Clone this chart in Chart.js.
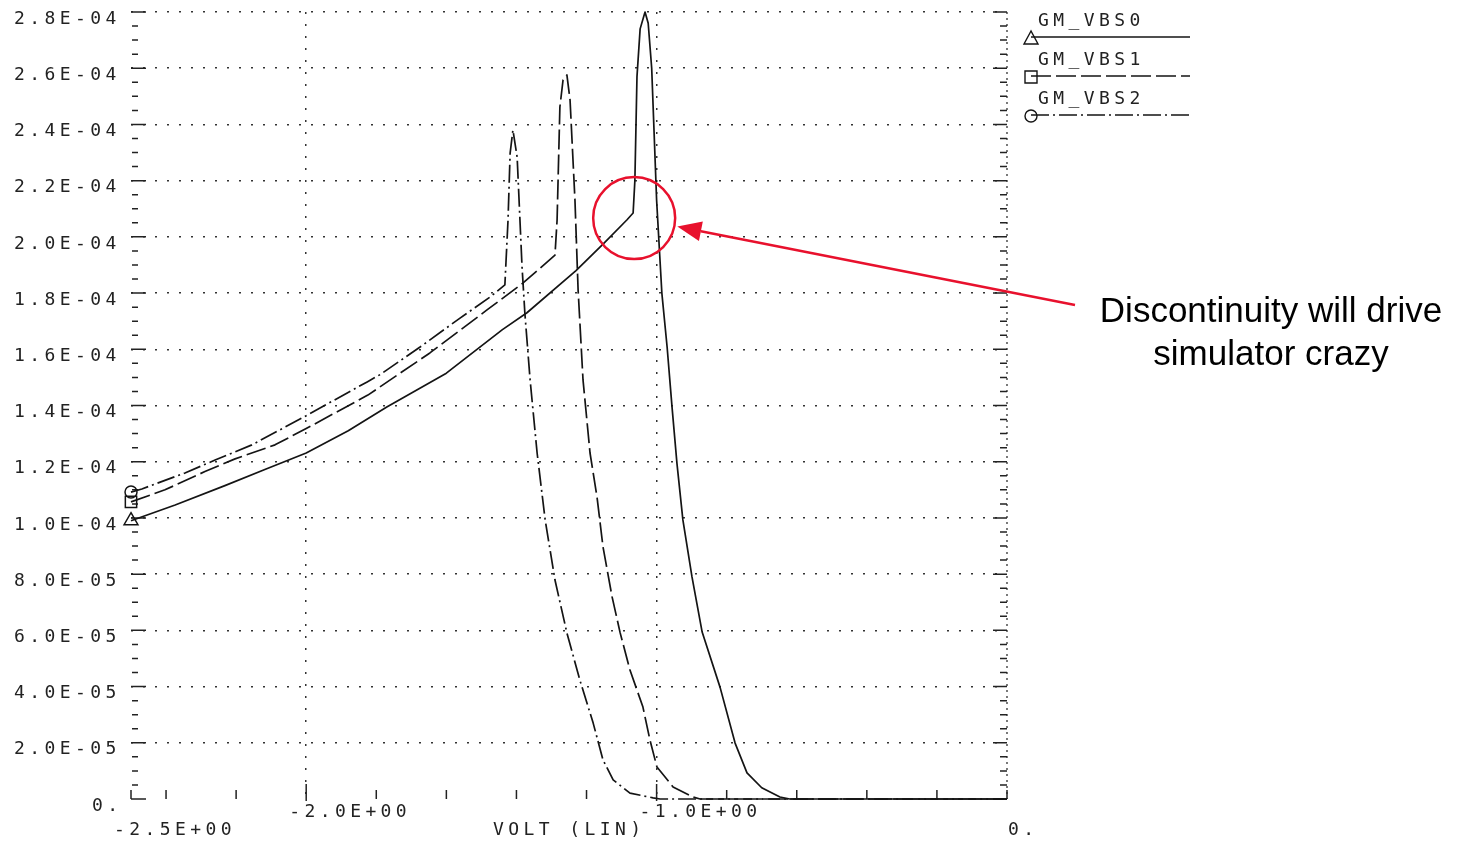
<!DOCTYPE html>
<html>
<head>
<meta charset="utf-8">
<title>GM vs VOLT</title>
<script src="https://cdn.jsdelivr.net/npm/chart.js@4.4.1/dist/chart.umd.min.js"></script>
<style>
    html, body { margin: 0; padding: 0; background: #fff; }
    #gmChart { display: block; }
</style>
</head>
<body>
<canvas id="gmChart" width="1468" height="842"></canvas>
<script>
// values (x in volts, gm in siemens)
const vbs0X = [-2.5, -2.374, -2.232, -2.118, -2.0, -1.88, -1.77, -1.6, -1.44, -1.37, -1.23, -1.15, -1.085, -1.067, -1.062, -1.056, -1.047, -1.033, -1.024, -1.014, -1.0, -0.985, -0.97, -0.956, -0.942, -0.925, -0.899, -0.87, -0.819, -0.776, -0.742, -0.7, -0.648, -0.62, 0];
const vbs0Y = [0.99e-4, 1.046e-4, 1.115e-4, 1.172e-4, 1.231e-4, 1.31e-4, 1.395e-4, 1.515e-4, 1.67e-4, 1.73e-4, 1.88e-4, 1.978e-4, 2.06e-4, 2.085e-4, 2.2e-4, 2.57e-4, 2.74e-4, 2.8e-4, 2.76e-4, 2.6e-4, 2.131e-4, 1.8e-4, 1.608e-4, 1.395e-4, 1.195e-4, 0.993e-4, 0.79e-4, 0.594e-4, 0.398e-4, 0.199e-4, 0.093e-4, 0.04e-4, 0.007e-4, 0, 0];

const vbs1X = [-2.5, -2.403, -2.289, -2.203, -2.089, -2.0, -1.824, -1.647, -1.484, -1.381, -1.29, -1.284, -1.276, -1.267, -1.256, -1.247, -1.233, -1.224, -1.21, -1.19, -1.17, -1.153, -1.127, -1.104, -1.076, -1.039, -1.019, -0.999, -0.953, -0.896, -0.876, 0];
const vbs1Y = [1.057e-4, 1.1e-4, 1.165e-4, 1.21e-4, 1.26e-4, 1.318e-4, 1.437e-4, 1.587e-4, 1.74e-4, 1.836e-4, 1.935e-4, 2.06e-4, 2.462e-4, 2.558e-4, 2.576e-4, 2.487e-4, 2.131e-4, 1.811e-4, 1.491e-4, 1.231e-4, 1.074e-4, 0.897e-4, 0.719e-4, 0.591e-4, 0.459e-4, 0.327e-4, 0.21e-4, 0.114e-4, 0.043e-4, 0.007e-4, 0, 0];

const vbs2X = [-2.5, -2.469, -2.346, -2.26, -2.155, -2.023, -1.826, -1.789, -1.675, -1.561, -1.475, -1.433, -1.424, -1.418, -1.41, -1.398, -1.384, -1.376, -1.361, -1.341, -1.318, -1.29, -1.256, -1.219, -1.181, -1.153, -1.124, -1.076, -1.01, -0.99, 0];
const vbs2Y = [1.092e-4, 1.103e-4, 1.16e-4, 1.206e-4, 1.26e-4, 1.348e-4, 1.484e-4, 1.51e-4, 1.608e-4, 1.711e-4, 1.786e-4, 1.829e-4, 2.06e-4, 2.298e-4, 2.38e-4, 2.284e-4, 1.893e-4, 1.729e-4, 1.491e-4, 1.231e-4, 0.993e-4, 0.779e-4, 0.591e-4, 0.423e-4, 0.27e-4, 0.139e-4, 0.068e-4, 0.021e-4, 0.004e-4, 0, 0];

const seriesNames = ['GM_VBS0', 'GM_VBS1', 'GM_VBS2'];

const xTickValues = [-2.5, -2.4, -2.2, -2.0, -1.8, -1.6, -1.4, -1.2, -1.0, -0.8, -0.6, -0.4, -0.2, 0];
const xGridValues = [-2.0, -1.0];
const xLabelValues = [-2.5, -2.0, -1.0, 0];
const xLabelText = ['-2.5E+00', '-2.0E+00', '-1.0E+00', '0.'];
const xTitle = 'VOLT (LIN)';

const yTickValues = [0, 2e-5, 4e-5, 6e-5, 8e-5, 1e-4, 1.2e-4, 1.4e-4, 1.6e-4, 1.8e-4, 2e-4, 2.2e-4, 2.4e-4, 2.6e-4, 2.8e-4];
const yLabelText = ['0.', '2.0E-05', '4.0E-05', '6.0E-05', '8.0E-05', '1.0E-04', '1.2E-04', '1.4E-04', '1.6E-04', '1.8E-04', '2.0E-04', '2.2E-04', '2.4E-04', '2.6E-04', '2.8E-04'];

const noteLines = ['Discontinuity will drive', 'simulator crazy'];
const notePoint = { x: -1.064, y: 2.067e-4 };

const ink = '#141414';
const noteRed = '#e8112d';
const dashes = [[], [20, 5], [18, 4, 2, 4]];
const markers = ['triangle', 'rect', 'circle'];
const markerSize = [8, 8, 6];

function toPoints(xs, ys) {
    return xs.map((v, i) => ({ x: v, y: ys[i] }));
}

function plotText(ctx, text, x, y, align) {
    ctx.save();
    ctx.font = '18px "DejaVu Sans Mono"';
    ctx.letterSpacing = '4.4px';
    ctx.fillStyle = '#222';
    ctx.textAlign = align;
    ctx.textBaseline = 'middle';
    ctx.fillText(text, x, y);
    ctx.restore();
}

function drawMarker(ctx, style, x, y) {
    ctx.beginPath();
    if (style === 'triangle') {
        ctx.moveTo(x, y - 7);
        ctx.lineTo(x - 7, y + 6);
        ctx.lineTo(x + 7, y + 6);
        ctx.closePath();
    } else if (style === 'rect') {
        ctx.rect(x - 6, y - 6, 12, 12);
    } else {
        ctx.arc(x, y, 6, 0, Math.PI * 2);
    }
    ctx.stroke();
}

// tick marks, tick labels, right ruler
const axisMarks = {
    id: 'axisMarks',
    beforeDatasetsDraw(chart) {
        const { ctx, chartArea: a, scales: { x, y } } = chart;
        ctx.save();
        ctx.strokeStyle = '#222';
        ctx.lineWidth = 1.5;
        ctx.beginPath();
        for (let i = 0; i < yTickValues.length; i++) {
            const py = y.getPixelForValue(yTickValues[i]);
            ctx.moveTo(a.left, py); ctx.lineTo(a.left + 15, py);
            ctx.moveTo(a.right, py); ctx.lineTo(a.right - 14, py);
            if (i < yTickValues.length - 1) {
                const step = (yTickValues[i + 1] - yTickValues[i]) / 4;
                for (let k = 1; k < 4; k++) {
                    const my = y.getPixelForValue(yTickValues[i] + k * step);
                    ctx.moveTo(a.left + 1, my); ctx.lineTo(a.left + 7, my);
                    ctx.moveTo(a.right, my); ctx.lineTo(a.right - 7, my);
                }
            }
        }
        xTickValues.forEach(v => {
            const px = x.getPixelForValue(v);
            const major = xGridValues.includes(v);
            ctx.moveTo(px, a.bottom + (major ? 2 : 0));
            ctx.lineTo(px, a.bottom - (major ? 15 : 9));
        });
        ctx.stroke();

        ctx.lineWidth = 1.2;
        ctx.setLineDash([2, 4]);
        ctx.beginPath();
        ctx.moveTo(a.right, a.top);
        ctx.lineTo(a.right, a.bottom);
        ctx.stroke();
        ctx.restore();

        yTickValues.forEach((v, i) => {
            const py = y.getPixelForValue(v) + 7;
            plotText(ctx, yLabelText[i], v === 0 ? 92 : 14, py, 'left');
        });
        xLabelValues.forEach((v, i) => {
            const px = x.getPixelForValue(v);
            const low = (i === 0 || i === xLabelValues.length - 1);
            const start = v < 0 ? px - 17 : px + 1;
            plotText(ctx, xLabelText[i], start, low ? 830 : 812, 'left');
        });
        plotText(ctx, xTitle, 493, 830, 'left');
    }
};

// legend in the top right, plus the red note
const sideNotes = {
    id: 'sideNotes',
    afterDraw(chart) {
        const { ctx, scales: { x, y } } = chart;
        ctx.save();
        seriesNames.forEach((name, i) => {
            const lineY = 37 + i * 39;
            plotText(ctx, name, 1038, lineY - 16, 'left');
            ctx.strokeStyle = ink;
            ctx.lineWidth = 1.4;
            ctx.setLineDash(dashes[i]);
            ctx.beginPath();
            ctx.moveTo(1031, lineY);
            ctx.lineTo(1190, lineY);
            ctx.stroke();
            ctx.setLineDash([]);
            drawMarker(ctx, markers[i], 1031, lineY + 1);
        });

        const cx = x.getPixelForValue(notePoint.x);
        const cy = y.getPixelForValue(notePoint.y);
        const r = 41;
        ctx.strokeStyle = noteRed;
        ctx.fillStyle = noteRed;
        ctx.lineWidth = 2.5;
        ctx.beginPath();
        ctx.arc(cx, cy, r, 0, Math.PI * 2);
        ctx.stroke();

        const tailX = 1075, tailY = 305;
        const dx = tailX - cx, dy = tailY - cy;
        const len = Math.hypot(dx, dy);
        const ux = dx / len, uy = dy / len;
        const tipX = cx + ux * (r + 3), tipY = cy + uy * (r + 3);
        const headLen = 24, headW = 10;
        const bx = tipX + ux * headLen, by = tipY + uy * headLen;
        ctx.beginPath();
        ctx.moveTo(bx, by);
        ctx.lineTo(tailX, tailY);
        ctx.stroke();
        ctx.beginPath();
        ctx.moveTo(tipX, tipY);
        ctx.lineTo(bx - uy * headW, by + ux * headW);
        ctx.lineTo(bx + uy * headW, by - ux * headW);
        ctx.closePath();
        ctx.fill();

        ctx.fillStyle = '#000';
        ctx.font = '35px "Liberation Sans", Arial, sans-serif';
        ctx.textAlign = 'center';
        ctx.textBaseline = 'alphabetic';
        ctx.fillText(noteLines[0], 1271, 322);
        ctx.fillText(noteLines[1], 1271, 365);
        ctx.restore();
    }
};

function gmChart() {
    const ctx = document.getElementById('gmChart').getContext('2d');
    const allX = [vbs0X, vbs1X, vbs2X];
    const allY = [vbs0Y, vbs1Y, vbs2Y];
    const gmChart = new Chart(ctx, {
        type: 'line',
        data: {
            datasets: seriesNames.map((name, i) => ({
                label: name,
                data: toPoints(allX[i], allY[i]),
                borderColor: ink,
                borderWidth: 1.7,
                borderDash: dashes[i],
                borderJoinStyle: 'round',
                backgroundColor: 'rgba(0,0,0,0)',
                pointStyle: markers[i],
                pointRadius: c => (c.dataIndex === 0 ? markerSize[i] : 0),
                pointBorderColor: ink,
                pointBorderWidth: 1.5,
                pointBackgroundColor: 'rgba(0,0,0,0)',
                tension: 0,
                fill: false,
                clip: false
            }))
        },
        options: {
            responsive: false,
            animation: false,
            events: [],
            layout: {
                padding: { left: 131, right: 461, top: 12, bottom: 43 }
            },
            plugins: {
                legend: { display: false },
                tooltip: { enabled: false }
            },
            scales: {
                x: {
                    type: 'linear',
                    min: -2.5,
                    max: 0,
                    afterBuildTicks: s => { s.ticks = xTickValues.map(v => ({ value: v })); },
                    afterFit: s => { s.height = 0; },
                    ticks: { display: false },
                    grid: {
                        drawTicks: false,
                        lineWidth: 1.5,
                        color: c => (c.tick && xGridValues.includes(c.tick.value)) ? '#333' : 'rgba(0,0,0,0)'
                    },
                    border: { display: false, dash: [2, 10] }
                },
                y: {
                    type: 'linear',
                    min: 0,
                    max: 2.8e-4,
                    afterBuildTicks: s => { s.ticks = yTickValues.map(v => ({ value: v })); },
                    afterFit: s => { s.width = 0; },
                    ticks: { display: false },
                    grid: {
                        drawTicks: false,
                        lineWidth: 1.5,
                        color: c => (c.tick && c.tick.value > 0) ? '#333' : 'rgba(0,0,0,0)'
                    },
                    border: { display: false, dash: [2, 10] }
                }
            }
        },
        plugins: [axisMarks, sideNotes]
    });
}

window.onload = function() {
    gmChart();
};
</script>
</body>
</html>
